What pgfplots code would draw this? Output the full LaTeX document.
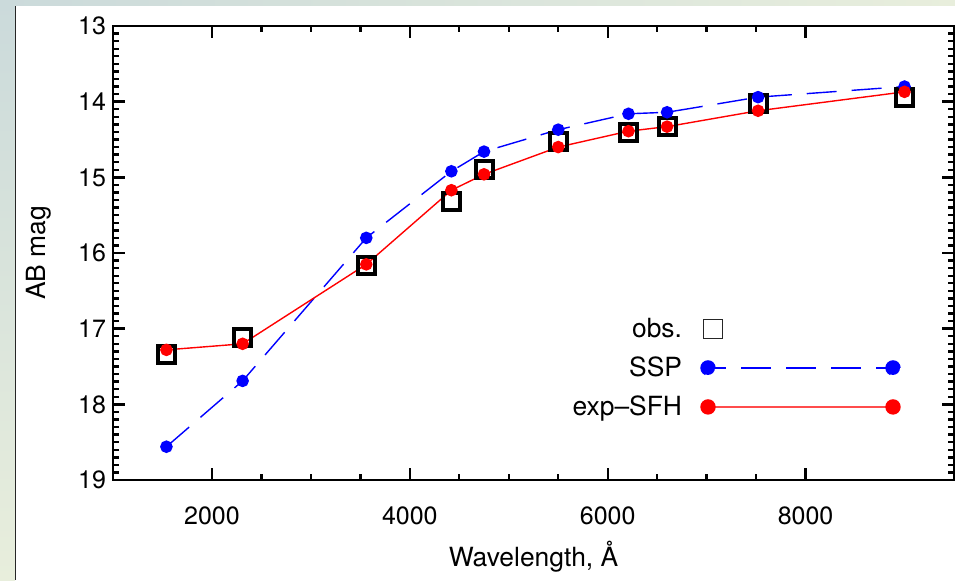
\documentclass[border=0pt]{standalone}
\usepackage{fontspec}
\setmainfont{TeX Gyre Heros}
\usepackage{pgfplots}
\pgfplotsset{compat=1.18}
\definecolor{bgA}{HTML}{CBDADB}
\definecolor{bgB}{HTML}{E8EEDC}
\newcommand{\lblfont}{\fontsize{12.5}{15}\selectfont}
\newcommand{\txtfont}{\fontsize{13.2}{16}\selectfont}
\begin{document}
\begin{tikzpicture}
% slide frame
\shade[top color=bgA, bottom color=bgB] (-56.5pt,-50pt) rectangle (-49pt,240pt);
\shade[left color=bgA, right color=bgB] (-56.5pt,237pt) rectangle (421pt,240pt);
\draw[line width=0.75pt, black!85] (-48.75pt,-50pt) -- (-48.75pt,237pt);
\begin{axis}[
  at={(0,0)}, anchor=south west,
  scale only axis,
  width=420.5pt, height=227pt,
  xmin=1000, xmax=9500,
  ymin=13, ymax=19,
  y dir=reverse,
  xtick={2000,4000,6000,8000},
  ytick={13,14,15,16,17,18,19},
  minor x tick num=3,
  minor y tick num=9,
  major tick length=6pt,
  minor tick length=3pt,
  axis line style={line width=1.2pt},
  tick style={line width=1.2pt, black},
  /pgf/number format/assume math mode=true,
  /pgf/number format/1000 sep={},
  tick label style={font=\lblfont},
  xticklabel style={yshift=-10pt},
  label style={font=\txtfont},
  xlabel={Wavelength, Å},
  ylabel={AB mag},
  xlabel style={at={(axis description cs:0.5,-0.1916)}, anchor=base},
  ylabel style={at={(axis description cs:-0.0797,0.5)}, anchor=base},
  legend plot pos=right,
  legend cell align=right,
  legend style={draw=none, fill=none, inner sep=0pt, outer sep=0pt,
    at={(axis description cs:0.937,0.357)}, anchor=north east,
    row sep=8.5pt, column sep=9pt, font=\txtfont,
    nodes={inner sep=0pt, text height=10pt, text depth=1pt}},
]
% observed photometry
\addplot[only marks, mark=square, mark size=4.25pt, line width=2pt, black,
  legend image code/.code={
    \path[draw=none, fill=none] (-4pt,-5pt) rectangle (96.5pt,5pt);
    \draw[black!85, line width=0.7pt] (-2.25pt,-4.75pt) rectangle (7.25pt,4.75pt);
  }] coordinates {
  (1540,17.34) (2310,17.11) (3560,16.16) (4420,15.32) (4750,14.89)
  (5500,14.53) (6210,14.41) (6600,14.33) (7520,14.02) (9000,13.94)
};
\addlegendentry{obs.}
% single stellar population
\addplot[blue, line width=0.7pt, dash pattern=on 15pt off 7.5pt,
  mark=*, mark size=2.8pt, mark options={solid, draw=none, fill=blue},
  legend image code/.code={
    \path[draw=none, fill=none] (-4pt,-5pt) rectangle (96.5pt,5pt);
    \draw[blue, line width=0.7pt, dash pattern=on 15pt off 7.5pt, dash phase=6pt] (0pt,0pt) -- (92.5pt,0pt);
    \fill[blue] (0pt,0pt) circle[radius=3.5pt];
    \fill[blue] (92.5pt,0pt) circle[radius=3.5pt];
  }] coordinates {
  (1540,18.56) (2310,17.69) (3560,15.80) (4420,14.92) (4750,14.66)
  (5500,14.37) (6210,14.16) (6600,14.14) (7520,13.94) (9000,13.80)
};
\addlegendentry{SSP}
% exponential star formation history
\addplot[red, line width=0.7pt,
  mark=*, mark size=2.8pt, mark options={draw=none, fill=red},
  legend image code/.code={
    \path[draw=none, fill=none] (-4pt,-5pt) rectangle (96.5pt,5pt);
    \draw[red!70, line width=0.9pt] (0pt,0pt) -- (92.5pt,0pt);
    \fill[red] (0pt,0pt) circle[radius=3.5pt];
    \fill[red] (92.5pt,0pt) circle[radius=3.5pt];
  }] coordinates {
  (1540,17.28) (2310,17.20) (3560,16.15) (4420,15.17) (4750,14.96)
  (5500,14.60) (6210,14.39) (6600,14.33) (7520,14.12) (9000,13.87)
};
\addlegendentry{exp--SFH}
\end{axis}
\pgfresetboundingbox
\path[use as bounding box] (-56.5pt,-50pt) rectangle (421pt,240pt);
\end{tikzpicture}
\end{document}
